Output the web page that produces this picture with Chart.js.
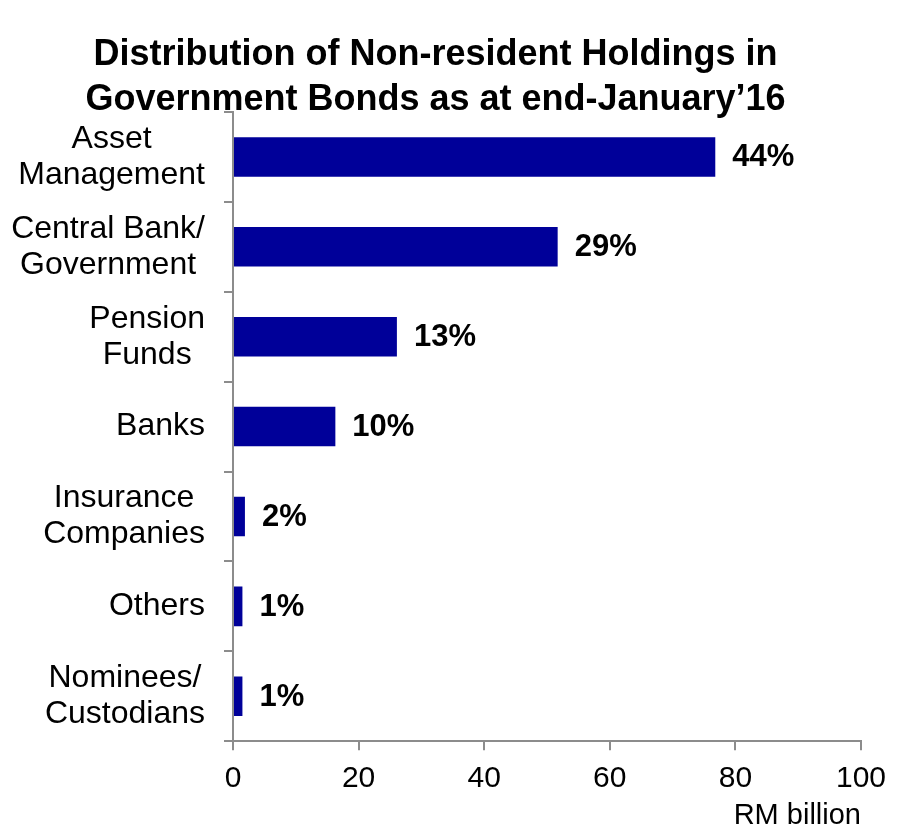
<!DOCTYPE html>
<html>
<head>
<meta charset="utf-8">
<script src="https://cdn.jsdelivr.net/npm/chart.js@4.4.1/dist/chart.umd.min.js"></script>
<style>
  html, body { margin: 0; padding: 0; background: #fff; }
  #wrap { width: 897px; height: 833px; }
</style>
</head>
<body>
<div id="wrap"><canvas id="holdingsChart" width="897" height="833"></canvas></div>
<script>
// Non-resident holdings of government bonds by investor type (RM billion)
const categories = [
  ["Asset", "Management"],
  ["Central Bank/", "Government"],
  ["Pension", "Funds"],
  ["Banks"],
  ["Insurance", "Companies"],
  ["Others"],
  ["Nominees/", "Custodians"]
];
const holdings = [76.8, 51.7, 26.1, 16.3, 1.9, 1.5, 1.5];
const shareLabels = ["44%", "29%", "13%", "10%", "2%", "1%", "1%"];
const xTicks = [0, 20, 40, 60, 80, 100];

const FONT = "'Liberation Sans', Arial, Helvetica, sans-serif";
const AXIS_GREY = "#8c8c8c";

// writes the share next to the end of each bar
const shareLabelPlugin = {
  id: "shareLabels",
  afterDatasetsDraw(chart) {
    const ctx = chart.ctx;
    const meta = chart.getDatasetMeta(0);
    ctx.save();
    ctx.font = "bold 31px " + FONT;
    ctx.fillStyle = "#000";
    ctx.textAlign = "left";
    ctx.textBaseline = "middle";
    meta.data.forEach((bar, i) => {
      ctx.fillText(shareLabels[i], bar.x + 17, bar.y + 1);
    });
    ctx.restore();
  }
};

// category names: each block sits right-aligned against the axis,
// with its lines centred on one another
const categoryLabelPlugin = {
  id: "categoryLabels",
  afterDraw(chart) {
    const ctx = chart.ctx;
    const yScale = chart.scales.y;
    const right = chart.chartArea.left - 28;
    const lineGap = 36;
    ctx.save();
    ctx.font = "32px " + FONT;
    ctx.fillStyle = "#000";
    ctx.textAlign = "center";
    ctx.textBaseline = "middle";
    categories.forEach((lines, i) => {
      const y = yScale.getPixelForTick(i);
      const blockWidth = Math.max(...lines.map(l => ctx.measureText(l).width));
      const cx = right - blockWidth / 2;
      lines.forEach((line, j) => {
        ctx.fillText(line, cx, y + (j - (lines.length - 1) / 2) * lineGap);
      });
    });
    ctx.restore();
  }
};

new Chart(document.getElementById("holdingsChart").getContext("2d"), {
  type: "bar",
  data: {
    labels: categories.map(c => c.join(" ")),
    datasets: [{
      data: holdings,
      backgroundColor: "#000099",
      borderWidth: 0,
      categoryPercentage: 1,
      barPercentage: 0.44
    }]
  },
  options: {
    indexAxis: "y",
    responsive: false,
    animation: false,
    layout: { padding: { top: 0, right: 26, bottom: 0, left: 0 } },
    plugins: {
      legend: { display: false },
      tooltip: { enabled: false },
      title: {
        display: true,
        text: ["Distribution of Non-resident Holdings in", "Government Bonds as at end-January\u201916"],
        color: "#000",
        font: { family: FONT, size: 36, weight: "bold", lineHeight: 1.25 },
        padding: { top: 33, bottom: -11 }
      }
    },
    scales: {
      y: {
        grid: {
          drawOnChartArea: false,
          tickLength: 9,
          color: AXIS_GREY,
          lineWidth: 2
        },
        border: { color: AXIS_GREY, width: 2 },
        ticks: { display: false },
        afterFit(scale) { scale.width = 233; }
      },
      x: {
        min: 0,
        max: 100,
        afterBuildTicks(scale) { scale.ticks = xTicks.map(v => ({ value: v })); },
        grid: {
          drawOnChartArea: false,
          tickLength: 9,
          color: AXIS_GREY,
          lineWidth: 2
        },
        border: { color: AXIS_GREY, width: 2 },
        ticks: {
          color: "#000",
          padding: 11,
          font: { family: FONT, size: 30 }
        },
        title: {
          display: true,
          text: "RM billion",
          align: "end",
          color: "#000",
          font: { family: FONT, size: 29 },
          padding: { top: -10, bottom: 0 }
        }
      }
    }
  },
  plugins: [shareLabelPlugin, categoryLabelPlugin]
});
</script>
</body>
</html>
